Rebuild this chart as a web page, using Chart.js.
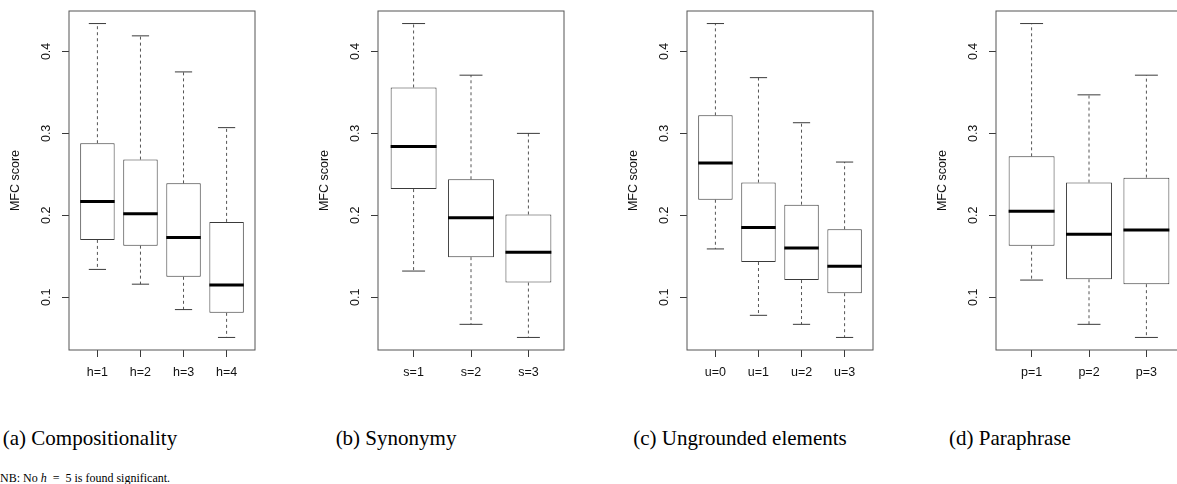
<!DOCTYPE html>
<html>
<head>
<meta charset="utf-8">
<script src="https://cdn.jsdelivr.net/npm/chart.js@4.4.1/dist/chart.umd.min.js"></script>
<style>
  html, body { margin: 0; padding: 0; background: #fff; overflow: hidden; }
  body { width: 1177px; height: 484px; position: relative; }
  .panel { position: absolute; top: 0; }
  .caption {
    position: absolute;
    top: 428px;
    font-family: "Liberation Serif", "Times New Roman", serif;
    font-size: 21px;
    line-height: 21px;
    color: #000;
    white-space: nowrap;
    transform: translateX(-50%);
  }
  .note {
    position: absolute;
    left: 0;
    top: 472px;
    font-family: "Liberation Serif", "Times New Roman", serif;
    font-size: 12px;
    line-height: 12px;
    color: #000;
    white-space: nowrap;
  }
  .note i { font-style: italic; }
</style>
</head>
<body>
<canvas id="comp" class="panel" width="300" height="400" style="left:0px"></canvas>
<canvas id="syn" class="panel" width="300" height="400" style="left:309px"></canvas>
<canvas id="ung" class="panel" width="300" height="400" style="left:618px"></canvas>
<canvas id="par" class="panel" width="300" height="400" style="left:927px"></canvas>

<div class="caption" style="left:90px">(a) Compositionality</div>
<div class="caption" style="left:396px">(b) Synonymy</div>
<div class="caption" style="left:740px">(c) Ungrounded elements</div>
<div class="caption" style="left:1010px">(d) Paraphrase</div>
<div class="note">NB: No <i>h</i>&nbsp;&nbsp;=&nbsp;&nbsp;5 is found significant.</div>

<script>
// (a) Compositionality
const compLabels = ["h=1", "h=2", "h=3", "h=4"];
const compLow = [0.134, 0.116, 0.085, 0.051];
const compQ1 = [0.170, 0.163, 0.125, 0.081];
const compMed = [0.217, 0.202, 0.173, 0.115];
const compQ3 = [0.288, 0.268, 0.239, 0.192];
const compHigh = [0.434, 0.419, 0.375, 0.307];

// (b) Synonymy
const synLabels = ["s=1", "s=2", "s=3"];
const synLow = [0.132, 0.067, 0.051];
const synQ1 = [0.232, 0.149, 0.118];
const synMed = [0.284, 0.197, 0.155];
const synQ3 = [0.356, 0.244, 0.201];
const synHigh = [0.434, 0.371, 0.300];

// (c) Ungrounded elements
const ungLabels = ["u=0", "u=1", "u=2", "u=3"];
const ungLow = [0.159, 0.078, 0.067, 0.051];
const ungQ1 = [0.219, 0.143, 0.121, 0.105];
const ungMed = [0.264, 0.185, 0.160, 0.138];
const ungQ3 = [0.322, 0.240, 0.213, 0.183];
const ungHigh = [0.434, 0.368, 0.313, 0.265];

// (d) Paraphrase
const parLabels = ["p=1", "p=2", "p=3"];
const parLow = [0.121, 0.067, 0.051];
const parQ1 = [0.163, 0.122, 0.116];
const parMed = [0.205, 0.177, 0.182];
const parQ3 = [0.272, 0.240, 0.246];
const parHigh = [0.434, 0.347, 0.371];

const yTicks = [0.1, 0.2, 0.3, 0.4];

const axisFont = { family: "'Liberation Sans', Arial, sans-serif", size: 12.5 };
const inkColor = "#111";
const lineColor = "#3a3a3a";

function makePanel(canvasId, labels, low, q1, med, q3, high) {
  const n = labels.length;
  // R-style ranges: 4% extension on both axes
  const yLo = Math.min(...low);
  const yHi = Math.max(...high);
  const yPad = (yHi - yLo) * 0.04;
  const xPad = n * 0.04;

  const boxPlugin = {
    id: "boxWhiskers",
    afterDatasetsDraw(chart) {
      const { ctx } = chart;
      const yScale = chart.scales.y;
      const meta = chart.getDatasetMeta(0);

      ctx.save();
      meta.data.forEach((bar, i) => {
        const cx = bar.x;
        const half = bar.width / 2;
        const pLow = yScale.getPixelForValue(low[i]);
        const pQ1 = yScale.getPixelForValue(q1[i]);
        const pMed = yScale.getPixelForValue(med[i]);
        const pQ3 = yScale.getPixelForValue(q3[i]);
        const pHigh = yScale.getPixelForValue(high[i]);

        // dashed whiskers
        ctx.strokeStyle = "#555";
        ctx.lineWidth = 1;
        ctx.setLineDash([3, 3]);
        ctx.beginPath();
        ctx.moveTo(cx, pQ3);
        ctx.lineTo(cx, pHigh);
        ctx.moveTo(cx, pQ1);
        ctx.lineTo(cx, pLow);
        ctx.stroke();

        // staples, half the box width
        ctx.setLineDash([]);
        ctx.strokeStyle = lineColor;
        ctx.beginPath();
        ctx.moveTo(cx - half / 2, pHigh);
        ctx.lineTo(cx + half / 2, pHigh);
        ctx.moveTo(cx - half / 2, pLow);
        ctx.lineTo(cx + half / 2, pLow);
        ctx.stroke();

        // median
        ctx.strokeStyle = "#000";
        ctx.lineWidth = 3;
        ctx.beginPath();
        ctx.moveTo(cx - half, pMed);
        ctx.lineTo(cx + half, pMed);
        ctx.stroke();
      });

      // plot frame
      const { left, top, right, bottom } = chart.chartArea;
      ctx.strokeStyle = "#555";
      ctx.lineWidth = 1;
      ctx.strokeRect(left, top, right - left, bottom - top);
      ctx.restore();
    },
  };

  const ctx = document.getElementById(canvasId).getContext("2d");

  return new Chart(ctx, {
    type: "bar",
    data: {
      datasets: [
        {
          data: labels.map((_, i) => ({ x: i + 1, y: [q1[i], q3[i]] })),
          backgroundColor: "#fff",
          borderColor: lineColor,
          borderWidth: 1,
          borderSkipped: false,
          barPercentage: 0.8,
          categoryPercentage: 1,
        },
      ],
    },
    options: {
      responsive: false,
      animation: false,
      events: [],
      layout: {
        padding: { top: 11, right: 45, bottom: 0, left: 0 },
      },
      plugins: {
        legend: { display: false },
        tooltip: { enabled: false },
      },
      scales: {
        x: {
          type: "linear",
          min: 0.5 - xPad,
          max: n + 0.5 + xPad,
          offset: false,
          grid: {
            drawOnChartArea: false,
            drawTicks: true,
            tickLength: 7,
            color: lineColor,
            offset: false,
          },
          border: { display: false },
          ticks: {
            color: inkColor,
            font: axisFont,
            padding: 8,
            maxRotation: 0,
            autoSkip: false,
            callback: (value) => labels[Math.round(value) - 1] ?? "",
          },
          afterBuildTicks: (scale) => {
            scale.ticks = labels.map((_, i) => ({ value: i + 1 }));
          },
          afterFit: (scale) => {
            scale.height = 50;
            scale.paddingLeft = 0;
            scale.paddingRight = 0;
          },
        },
        y: {
          type: "linear",
          min: yLo - yPad,
          max: yHi + yPad,
          beginAtZero: false,
          grid: {
            drawOnChartArea: false,
            drawTicks: true,
            tickLength: 7,
            color: lineColor,
          },
          border: { display: false },
          ticks: {
            color: inkColor,
            font: axisFont,
            minRotation: 90,
            maxRotation: 90,
            crossAlign: "center",
            padding: 7,
            autoSkip: false,
            callback: (value) => value.toFixed(1),
          },
          afterBuildTicks: (scale) => {
            scale.ticks = yTicks.map((v) => ({ value: v }));
          },
          afterFit: (scale) => {
            scale.width = 69;
            scale.paddingTop = 0;
            scale.paddingBottom = 0;
          },
          title: {
            display: true,
            text: "MFC score",
            color: inkColor,
            font: axisFont,
            padding: { top: 8, bottom: 0 },
          },
        },
      },
    },
    plugins: [boxPlugin],
  });
}

makePanel("comp", compLabels, compLow, compQ1, compMed, compQ3, compHigh);
makePanel("syn", synLabels, synLow, synQ1, synMed, synQ3, synHigh);
makePanel("ung", ungLabels, ungLow, ungQ1, ungMed, ungQ3, ungHigh);
makePanel("par", parLabels, parLow, parQ1, parMed, parQ3, parHigh);
</script>
</body>
</html>
